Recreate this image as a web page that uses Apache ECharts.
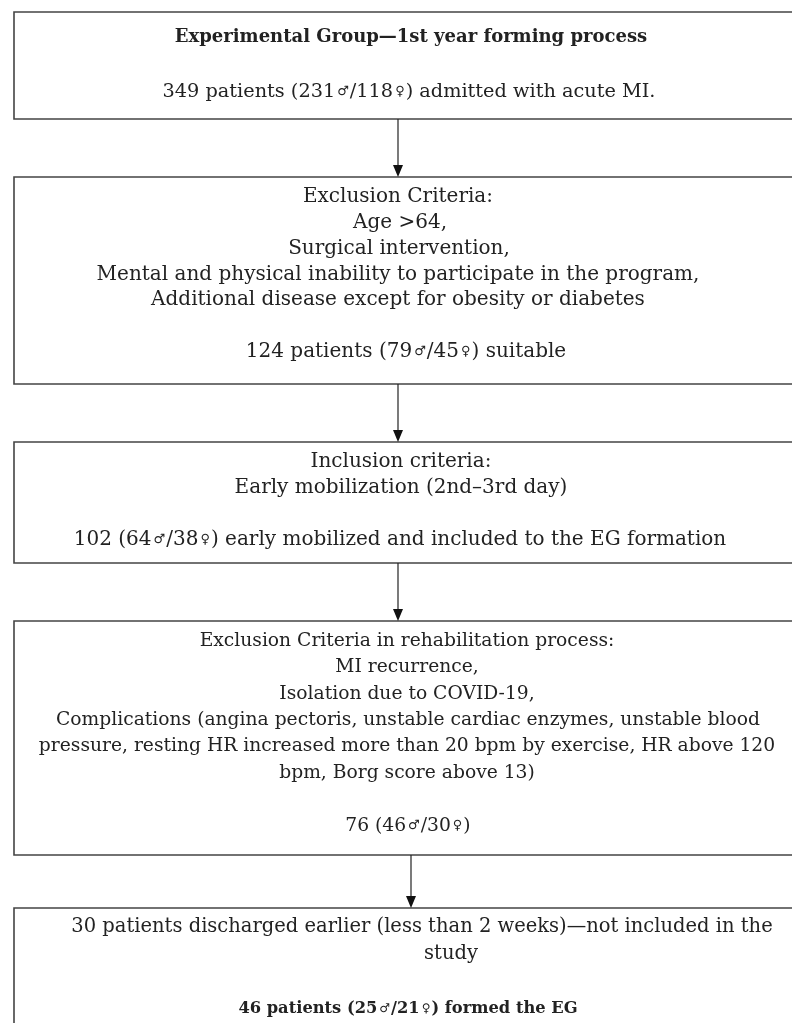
<!DOCTYPE html>
<html>
<head>
<meta charset="utf-8">
<script src="https://cdn.jsdelivr.net/npm/echarts@6/dist/echarts.min.js"></script>
<style>
html,body{margin:0;padding:0;background:#fff;}
#chart{width:792px;height:1023px;}
</style>
</head>
<body>
<div id="chart"></div>
<script>
// ---- content (text of each flowchart box) ----
var box1Lines = [
  '{t|Experimental Group\u20141st year forming process}',
  '',
  '349 patients (231{s|\u2642}/118{s|\u2640}) admitted with acute MI.'
];
var box2Lines = [
  'Exclusion Criteria:',
  'Age >64,',
  'Surgical intervention,',
  'Mental and physical inability to participate in the program,',
  'Additional disease except for obesity or diabetes',
  '',
  '124 patients (79{s|\u2642}/45{s|\u2640}) suitable'
];
var box3Lines = [
  'Inclusion criteria:',
  'Early mobilization (2nd\u20133rd day)',
  '',
  '102 (64{s|\u2642}/38{s|\u2640}) early mobilized and included to the EG formation'
];
var box4Lines = [
  'Exclusion Criteria in rehabilitation process:',
  'MI recurrence,',
  'Isolation due to COVID-19,',
  'Complications (angina pectoris, unstable cardiac enzymes, unstable blood',
  'pressure, resting HR increased more than 20 bpm by exercise, HR above 120',
  'bpm, Borg score above 13)',
  '',
  '76 (46{s|\u2642}/30{s|\u2640})'
];
var box5Lines = [
  '30 patients discharged earlier (less than 2 weeks)\u2014not included in the',
  'study',
  '',
  '{b|46 patients (25}{bs|\u2642}{b|/21}{bs|\u2640}{b|) formed the EG}'
];
var boxes = [box1Lines, box2Lines, box3Lines, box4Lines, box5Lines];

// ---- layout ----
var boxTop =    [12, 177, 442, 621, 908];
var boxBottom = [119, 384, 563, 855, 1040];
var firstLineY = [37, 197, 462, 641, 927];
var lineGap = [27.5, 25.8, 26, 26.4, 27.3];
var fontSizes = [19.3, 20, 20, 18.7, 19.5];
var centerX = [
  [411, 411, 409],
  [398, 400, 399, 398, 398, 406, 406],
  [401, 401, 400, 400],
  [407, 407, 407, 408, 407, 407, 408, 408],
  [422, 451, 422, 408]
];
var arrowX = [398, 398, 398, 411];
var left = 14, right = 806;
var FONT = '"DejaVu Serif", "Liberation Serif", serif';
var SYM = '"DejaVu Sans", sans-serif';

var elements = [];
boxes.forEach(function (lines, i) {
  var rich = {
    s: {fontSize: 13, fontFamily: SYM, color: '#222', verticalAlign: 'middle', padding: [0, 1, 0, 2]},
    t: {fontWeight: 'bold', fontSize: 18, fontFamily: FONT, color: '#222'},
    b: {fontWeight: 'bold', fontSize: 16.3, fontFamily: FONT, color: '#222'},
    bs: {fontWeight: 'bold', fontSize: 12, fontFamily: SYM, color: '#222', padding: [0, 1, 0, 2]}
  };
  elements.push({
    type: 'rect',
    shape: {x: left, y: boxTop[i], width: right - left, height: boxBottom[i] - boxTop[i]},
    style: {fill: 'none', stroke: '#444', lineWidth: 1.6}
  });
  lines.forEach(function (t, j) {
    if (!t) return;
    elements.push({
      type: 'text',
      style: {
        text: t, x: centerX[i][j], y: firstLineY[i] + j * lineGap[i],
        align: 'center', verticalAlign: 'middle',
        fontFamily: FONT, fontSize: fontSizes[i], fill: '#222', rich: rich
      }
    });
  });
});
for (var k = 0; k < 4; k++) {
  var y0 = boxBottom[k], y1 = boxTop[k + 1];
  elements.push({type: 'line', shape: {x1: arrowX[k], y1: y0, x2: arrowX[k], y2: y1 - 10},
    style: {stroke: '#222', lineWidth: 1.2}});
  elements.push({type: 'polygon', shape: {points: [[arrowX[k] - 5, y1 - 12], [arrowX[k] + 5, y1 - 12], [arrowX[k], y1]]},
    style: {fill: '#111'}});
}

var chart = echarts.init(document.getElementById('chart'), null, {renderer: 'canvas'});
chart.setOption({
  backgroundColor: '#fff',
  animation: false,
  graphic: {elements: elements}
});
</script>
</body>
</html>
